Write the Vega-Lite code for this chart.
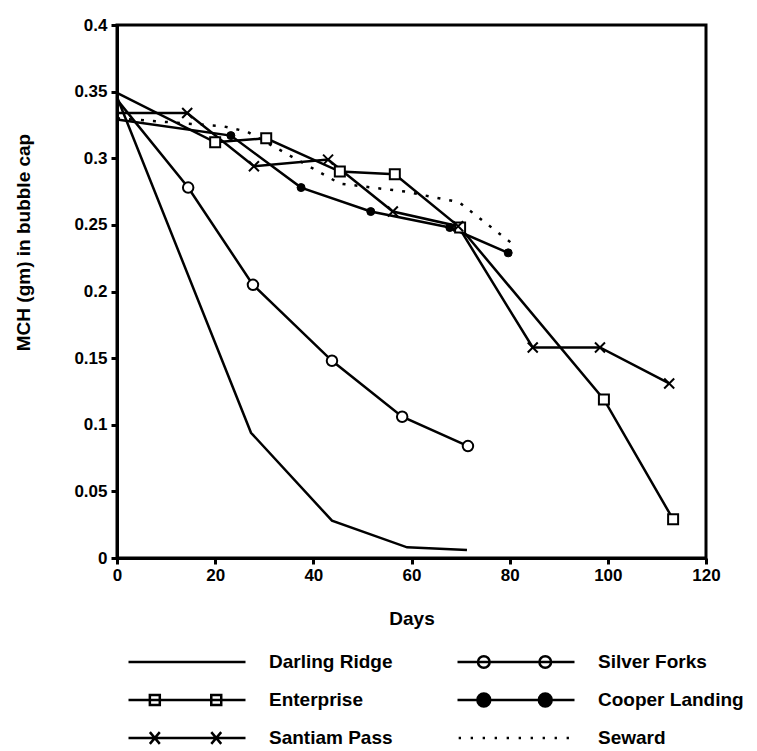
{
  "$schema": "https://vega.github.io/schema/vega-lite/v6.json",
  "width": 589,
  "height": 533,
  "autosize": {"type": "none"},
  "padding": {"left": 117, "top": 25, "right": 51, "bottom": 193},
  "background": "white",
  "config": {
    "view": {"stroke": "black", "strokeWidth": 3},
    "font": "Liberation Sans"
  },
  "data": {
    "values": [
      {"series": "Darling Ridge", "day": 0, "mch": 0.346},
      {"series": "Darling Ridge", "day": 27.3, "mch": 0.094},
      {"series": "Darling Ridge", "day": 43.8, "mch": 0.028},
      {"series": "Darling Ridge", "day": 59.1, "mch": 0.008},
      {"series": "Darling Ridge", "day": 71.3, "mch": 0.006},
      {"series": "Silver Forks", "day": 0, "mch": 0.344},
      {"series": "Silver Forks", "day": 14.5, "mch": 0.278},
      {"series": "Silver Forks", "day": 27.7, "mch": 0.205},
      {"series": "Silver Forks", "day": 43.8, "mch": 0.148},
      {"series": "Silver Forks", "day": 58.1, "mch": 0.106},
      {"series": "Silver Forks", "day": 71.5, "mch": 0.084},
      {"series": "Enterprise", "day": 0, "mch": 0.349},
      {"series": "Enterprise", "day": 20.0, "mch": 0.312},
      {"series": "Enterprise", "day": 30.4, "mch": 0.315},
      {"series": "Enterprise", "day": 45.4, "mch": 0.29},
      {"series": "Enterprise", "day": 56.6, "mch": 0.288},
      {"series": "Enterprise", "day": 69.9, "mch": 0.248},
      {"series": "Enterprise", "day": 99.2, "mch": 0.119},
      {"series": "Enterprise", "day": 113.3, "mch": 0.029},
      {"series": "Santiam Pass", "day": 0, "mch": 0.334},
      {"series": "Santiam Pass", "day": 14.3, "mch": 0.334},
      {"series": "Santiam Pass", "day": 27.9, "mch": 0.294},
      {"series": "Santiam Pass", "day": 43.0, "mch": 0.299},
      {"series": "Santiam Pass", "day": 56.2, "mch": 0.26},
      {"series": "Santiam Pass", "day": 69.5, "mch": 0.249},
      {"series": "Santiam Pass", "day": 84.7, "mch": 0.158},
      {"series": "Santiam Pass", "day": 98.4, "mch": 0.158},
      {"series": "Santiam Pass", "day": 112.5, "mch": 0.131},
      {"series": "Cooper Landing", "day": 0, "mch": 0.329},
      {"series": "Cooper Landing", "day": 23.2, "mch": 0.317},
      {"series": "Cooper Landing", "day": 37.5, "mch": 0.278},
      {"series": "Cooper Landing", "day": 51.7, "mch": 0.26},
      {"series": "Cooper Landing", "day": 67.8, "mch": 0.248},
      {"series": "Cooper Landing", "day": 79.7, "mch": 0.229},
      {"series": "Seward", "day": 0, "mch": 0.33},
      {"series": "Seward", "day": 21.6, "mch": 0.324},
      {"series": "Seward", "day": 26.5, "mch": 0.32},
      {"series": "Seward", "day": 45.4, "mch": 0.281},
      {"series": "Seward", "day": 58.7, "mch": 0.275},
      {"series": "Seward", "day": 69.7, "mch": 0.267},
      {"series": "Seward", "day": 80.5, "mch": 0.236}
    ]
  },
  "encoding": {
    "x": {
      "field": "day", "type": "quantitative",
      "scale": {"domain": [0, 120], "nice": false, "zero": false},
      "axis": {
        "orient": "bottom", "values": [0, 20, 40, 60, 80, 100, 120],
        "domain": true, "domainColor": "black", "domainWidth": 3,
        "grid": false, "ticks": true, "tickSize": 6, "tickWidth": 3, "tickColor": "black",
        "labelPadding": 3, "labelFlush": false, "labelOverlap": false,
        "labelFont": "Liberation Sans", "labelFontWeight": "bold", "labelFontSize": 17, "labelColor": "black",
        "title": "Days", "titleFont": "Liberation Sans", "titleFontSize": 19, "titleFontWeight": "bold",
        "titleColor": "black", "titleY": 60, "titleBaseline": "middle"
      }
    },
    "y": {
      "field": "mch", "type": "quantitative",
      "scale": {"domain": [0, 0.4], "nice": false},
      "axis": {
        "orient": "left", "values": [0, 0.05, 0.1, 0.15, 0.2, 0.25, 0.3, 0.35, 0.4],
        "format": ".2~f",
        "domain": true, "domainColor": "black", "domainWidth": 3,
        "grid": false, "ticks": true, "tickSize": 6, "tickWidth": 3, "tickColor": "black",
        "labelPadding": 4, "labelOverlap": false, "labelFlush": false,
        "labelFont": "Liberation Sans", "labelFontWeight": "bold", "labelFontSize": 17, "labelColor": "black",
        "title": "MCH (gm) in bubble cap", "titleFont": "Liberation Sans", "titleFontSize": 19,
        "titleFontWeight": "bold", "titleColor": "black", "titleAngle": -90,
        "titleX": -94, "titleY": 217, "titleBaseline": "middle", "titleAlign": "center"
      }
    }
  },
  "layer": [
    {
      "transform": [{"filter": "datum.series !== 'Seward'"}],
      "mark": {"type": "line", "color": "black", "strokeWidth": 2.5},
      "encoding": {"detail": {"field": "series", "type": "nominal"}}
    },
    {
      "transform": [{"filter": "datum.series === 'Seward'"}],
      "mark": {"type": "line", "color": "black", "strokeWidth": 2.5, "strokeDash": [3, 9], "strokeCap": "butt"},
      "encoding": {}
    },
    {
      "transform": [{"filter": "datum.series === 'Silver Forks' && datum.day > 0"}],
      "mark": {"type": "point", "shape": "circle", "size": 110, "filled": true, "fill": "white", "stroke": "black", "strokeWidth": 2, "opacity": 1},
      "encoding": {}
    },
    {
      "transform": [{"filter": "datum.series === 'Enterprise' && datum.day > 0"}],
      "mark": {"type": "point", "shape": "square", "size": 100, "filled": true, "fill": "white", "stroke": "black", "strokeWidth": 2, "opacity": 1},
      "encoding": {}
    },
    {
      "transform": [{"filter": "datum.series === 'Santiam Pass' && datum.day > 0"}],
      "mark": {"type": "point", "shape": "M-1,-1L1,1M-1,1L1,-1", "size": 100, "filled": false, "stroke": "black", "strokeWidth": 2, "opacity": 1},
      "encoding": {}
    },
    {
      "transform": [{"filter": "datum.series === 'Cooper Landing' && datum.day > 0"}],
      "mark": {"type": "point", "shape": "circle", "size": 64, "filled": true, "fill": "black", "stroke": "black", "strokeWidth": 1, "opacity": 1},
      "encoding": {}
    },
    {
      "mark": {"type": "point", "opacity": 0, "filled": false, "stroke": "black", "strokeWidth": 2.5, "size": 13689},
      "encoding": {
        "shape": {
          "field": "series", "type": "nominal",
          "scale": {
            "domain": ["Darling Ridge", "Enterprise", "Santiam Pass", "Silver Forks", "Cooper Landing", "Seward"],
            "range": [
              "M-1,0H1",
              "M-1,0H1M-0.635,-0.085H-0.465V0.085H-0.635ZM0.415,-0.085H0.585V0.085H0.415Z",
              "M-1,0H1M-0.635,-0.1L-0.465,0.1M-0.635,0.1L-0.465,-0.1M0.415,-0.1L0.585,0.1M0.415,0.1L0.585,-0.1",
              "M-1,0H1M-0.45,0A0.1,0.1,0,1,1,-0.65,0A0.1,0.1,0,1,1,-0.45,0M0.6,0A0.1,0.1,0,1,1,0.4,0A0.1,0.1,0,1,1,0.6,0",
              "M-1,0H1M-0.44,0A0.11,0.11,0,1,1,-0.66,0A0.11,0.11,0,1,1,-0.44,0M-0.48,0A0.07,0.07,0,1,1,-0.62,0A0.07,0.07,0,1,1,-0.48,0M-0.52,0A0.03,0.03,0,1,1,-0.58,0A0.03,0.03,0,1,1,-0.52,0M0.61,0A0.11,0.11,0,1,1,0.39,0A0.11,0.11,0,1,1,0.61,0M0.57,0A0.07,0.07,0,1,1,0.43,0A0.07,0.07,0,1,1,0.57,0M0.53,0A0.03,0.03,0,1,1,0.47,0A0.03,0.03,0,1,1,0.53,0",
              "M-0.98,0H-0.94M-0.775,0H-0.735M-0.57,0H-0.53M-0.365,0H-0.325M-0.16,0H-0.12M0.045,0H0.085M0.25,0H0.29M0.455,0H0.495M0.66,0H0.7M0.865,0H0.905"
            ]
          },
          "legend": {
            "orient": "none", "legendX": 10, "legendY": 627, "columns": 2, "columnPadding": 63,
            "rowPadding": 18, "clipHeight": 20, "labelOffset": 22, "padding": 0, "title": null,
            "labelFont": "Liberation Sans", "labelFontSize": 19, "labelFontWeight": "bold", "labelColor": "black",
            "symbolSize": 13689, "symbolStrokeWidth": 2.5, "symbolStrokeColor": "black",
            "symbolFillColor": "transparent", "symbolOpacity": 1, "labelLimit": 300
          }
        }
      }
    }
  ]
}
